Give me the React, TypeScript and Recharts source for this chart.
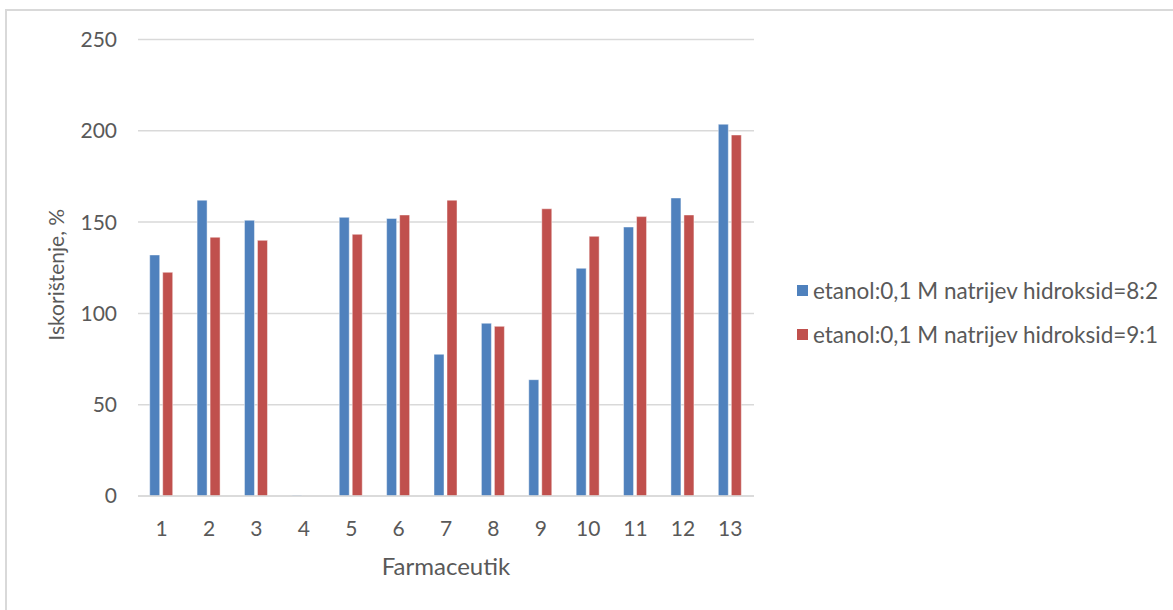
import React from 'react';
import { BarChart, Bar, XAxis, YAxis, CartesianGrid, Legend } from 'recharts';

// Farmaceutik 1..13
const categories = ['1', '2', '3', '4', '5', '6', '7', '8', '9', '10', '11', '12', '13'];
const ratio82 = [132, 162, 151, 0.4, 152.6, 152, 77.6, 94.6, 63.7, 124.7, 147.3, 163.2, 203.6];
const ratio91 = [122.5, 141.7, 140, 0, 143.3, 153.9, 162, 92.9, 157.3, 142.2, 153, 153.9, 197.7];
const yTicks = [0, 50, 100, 150, 200, 250];

const series = [
    { key: 's82', name: 'etanol:0,1 M natrijev hidroksid=8:2', color: '#4F81BD' },
    { key: 's91', name: 'etanol:0,1 M natrijev hidroksid=9:1', color: '#C0504D' },
];

const data = categories.map((c, i) => ({ cat: c, s82: ratio82[i], s91: ratio91[i] }));

const FONT = 'Lato, sans-serif';
const TEXT = '#595959';

// legend drawn as two spaced rows, like Excel
const renderLegend = (props: any) => {
    const { payload } = props;
    return (
        <div style={{ fontFamily: FONT, fontSize: 22.5, color: TEXT }}>
            {payload.map((p: any) => (
                <div key={p.value} style={{ display: 'flex', alignItems: 'center', height: 44 }}>
                    <span style={{ display: 'inline-block', width: 11, height: 11, background: p.color, marginRight: 5 }} />
                    <span>{p.value}</span>
                </div>
            ))}
        </div>
    );
};

// rotated y title, sits a little below the plot centre as in the original
const YTitle = (props: any) => {
    const { viewBox } = props;
    const x = viewBox.x + 55;
    const y = viewBox.y + viewBox.height / 2 + 7;
    return (
        <text x={x} y={y} transform={`rotate(-90, ${x}, ${y})`} textAnchor="middle" dominantBaseline="central" fill={TEXT} fontSize={21} fontFamily={FONT}>
            Iskorištenje, %
        </text>
    );
};

export default function App() {
    return (
        <div style={{ position: 'absolute', left: 0, top: 0, width: 1173, height: 610, overflow: 'hidden', background: '#fff' }}>
            <div style={{ position: 'absolute', left: 5, top: 9, width: 1300, height: 700, borderLeft: '2px solid #d9d9d9', borderTop: '2px solid #d9d9d9' }} />
            <BarChart
                width={1173}
                height={610}
                data={data}
                margin={{ top: 39.5, right: 419, bottom: 0, left: 0 }}
                barCategoryGap="24.7%"
                barGap={3}
                style={{ fontFamily: FONT }}
            >
                <CartesianGrid vertical={false} stroke="#d9d9d9" strokeWidth={1.5} />
                <XAxis
                    dataKey="cat"
                    height={114}
                    tickLine={false}
                    axisLine={{ stroke: '#d9d9d9', strokeWidth: 1.5 }}
                    tick={{ fill: TEXT, fontSize: 21 }}
                    tickMargin={19}
                    interval={0}
                    label={{ value: 'Farmaceutik', position: 'insideBottom', offset: 35, fill: TEXT, fontSize: 24 }}
                />
                <YAxis
                    width={138}
                    domain={[0, 250]}
                    ticks={yTicks}
                    tickLine={false}
                    axisLine={false}
                    tick={{ fill: TEXT, fontSize: 21 }}
                    tickMargin={15}
                    label={<YTitle />}
                />
                <Legend
                    layout="vertical"
                    verticalAlign="middle"
                    align="center"
                    content={renderLegend}
                    wrapperStyle={{ left: 797, top: 268, width: 380 }}
                />
                {series.map((s) => (
                    <Bar
                        key={s.key}
                        dataKey={s.key}
                        name={s.name}
                        fill={s.color}
                        stroke="#ffffff"
                        strokeOpacity={0.45}
                        strokeWidth={1}
                        isAnimationActive={false}
                    />
                ))}
            </BarChart>
        </div>
    );
}
